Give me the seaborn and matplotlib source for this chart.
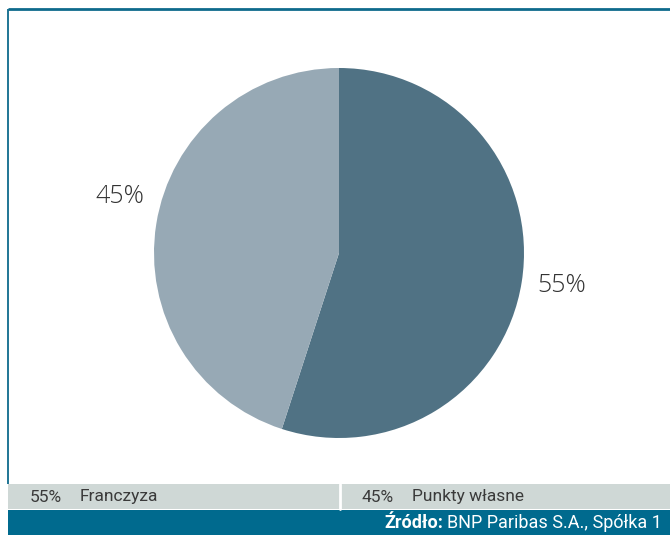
import matplotlib
matplotlib.use("Agg")
import matplotlib.pyplot as plt
import seaborn as sns

# dane z wykresu
kategorie = ["Franczyza", "Punkty własne"]
udzialy = [55, 45]
etykiety = ["55%", "45%"]
kolory = ["#507284", "#97a9b5"]
zrodlo_bold = "Źródło:"
zrodlo = "BNP Paribas S.A., Spółka 1"

sns.set_theme(style="white")
plt.rcParams["font.family"] = ["Open Sans", "DejaVu Sans"]

W, H = 670, 535
fig = plt.figure(figsize=(W / 100, H / 100), dpi=100)
fig.patch.set_facecolor("white")

# tło z ramką, legendą i stopką (w pikselach)
bg = fig.add_axes([0, 0, 1, 1])
bg.set_xlim(0, W)
bg.set_ylim(H, 0)
bg.axis("off")
bg.plot([8, W], [9, 9], color="#0e6a8c", lw=2.0, solid_capstyle="butt")
bg.plot([8, 8], [9, 484], color="#0e6a8c", lw=1.3, solid_capstyle="butt")
bg.add_patch(plt.Rectangle((8, 484), W - 8, 25, color="#cfd8d6", lw=0))
bg.plot([340, 340], [484, 509], color="white", lw=2)
bg.add_patch(plt.Rectangle((8, 510), W - 8, 25, color="#006a8e", lw=0))

legend_x = [30, 362]
for x, lab, kat in zip(legend_x, etykiety, kategorie):
    bg.text(x, 497, lab, fontsize=12.5, color="#3a3a3a", va="center",
            family=["Roboto", "DejaVu Sans"])
    bg.text(x + 50, 497, kat, fontsize=12.5, color="#3a3a3a", va="center",
            family=["Roboto", "DejaVu Sans"])

t = bg.text(662, 523, zrodlo, fontsize=13, color="white", va="center", ha="right",
            family=["Roboto", "DejaVu Sans"])
fig.canvas.draw()
bb = t.get_window_extent()
x0 = bg.transData.inverted().transform((bb.x0, 0))[0]
bg.text(x0 - 4, 523, zrodlo_bold, fontsize=13, color="white", va="center", ha="right",
        fontweight="bold", family=["Roboto", "DejaVu Sans"])

# wykres kołowy
cx, cy, r = 339, 253, 185
ax = fig.add_axes([(cx - r) / W, (H - cy - r) / H, 2 * r / W, 2 * r / H])
wedges, texts = ax.pie(udzialy, colors=kolory, startangle=90, counterclock=False,
                       labels=etykiety, labeldistance=1.22,
                       textprops=dict(fontsize=18, color="#333333", fontweight="light"),
                       wedgeprops=dict(linewidth=0))
# przesunięcie etykiet jak w oryginale
for txt, pos in zip(texts, [(1.205, -0.173), (-1.184, 0.308)]):
    txt.set_position(pos)
    txt.set_ha("center")
    txt.set_va("center")
ax.set_xlim(-1, 1)
ax.set_ylim(-1, 1)
ax.set_aspect("equal")

fig.savefig("out.png", dpi=100)
